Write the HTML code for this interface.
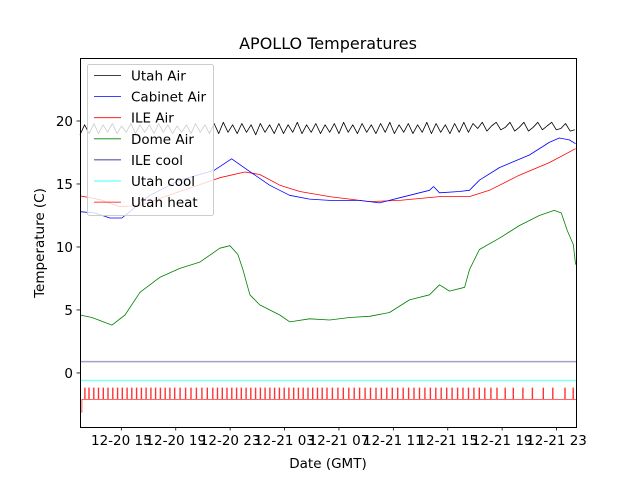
<!DOCTYPE html>
<html><head><meta charset="utf-8"><style>
body{margin:0;background:#fff}
svg text{font-family:"DejaVu Sans","Liberation Sans",sans-serif}
</style></head><body>
<svg id="chart" width="640" height="480" viewBox="0 0 640 480" xmlns="http://www.w3.org/2000/svg">
<rect width="640" height="480" fill="#fff"/>
<text x="328" y="49" font-size="16" text-anchor="middle">APOLLO Temperatures</text>
<g id="plot"></g>
<rect x="80.5" y="58.5" width="496" height="369" fill="none" stroke="#000" stroke-width="1"/>
<g id="ticks"></g>
<text x="328" y="468" font-size="13.5" text-anchor="middle">Date (GMT)</text>
<text transform="translate(44,243) rotate(-90)" font-size="13.5" text-anchor="middle">Temperature (C)</text>
<g id="legend"></g>
</svg>
<script>
// hours since 12-20 00:00 GMT
const xTickHours=[15,19,23,27,31,35,39,43,47];
const xTickLabels=["12-20 15","12-20 19","12-20 23","12-21 03","12-21 07","12-21 11","12-21 15","12-21 19","12-21 23"];
const yTicks=[0,5,10,15,20];
const seriesNames=["Utah Air","Cabinet Air","ILE Air","Dome Air","ILE cool","Utah cool","Utah heat"];
const seriesColors=["#000","#00f","#f00","#008000","#000080","#00ffff","#f00"];

const cabinetT=[11.96,13.06,14.16,15.04,17.1,19.3,21.86,23.11,24.43,25.9,27.37,28.84,30.31,32.51,33.98,35.45,36.92,37.66,37.95,38.39,39.86,40.59,41.33,42.8,45.0,46.47,47.2,47.94,48.4];
const cabinetV=[12.8,12.7,12.3,12.3,14.1,15.3,16.1,17.0,16.0,14.9,14.1,13.8,13.7,13.7,13.5,13.9,14.3,14.5,14.8,14.3,14.4,14.5,15.3,16.3,17.3,18.3,18.65,18.5,18.2];
const ileAirT=[11.96,13.43,14.9,16.37,19.3,22.25,24.08,25.18,26.65,28.12,30.31,33.26,35.45,38.39,40.59,42.06,44.26,46.47,48.4];
const ileAirV=[14.05,13.75,13.2,13.3,14.4,15.5,15.95,15.75,14.9,14.4,14.0,13.6,13.7,14.0,14.0,14.5,15.7,16.7,17.8];
const domeT=[11.96,12.84,14.31,15.27,16.37,17.84,19.3,20.77,22.25,22.98,23.57,23.94,24.45,25.18,26.65,27.39,28.84,30.31,31.78,33.26,34.72,36.19,37.66,38.39,39.13,40.24,40.6,41.33,42.8,44.26,45.73,46.83,47.35,47.79,48.23,48.4];
const domeV=[4.6,4.4,3.8,4.6,6.4,7.6,8.3,8.8,9.9,10.1,9.4,8.2,6.2,5.4,4.6,4.05,4.3,4.2,4.4,4.5,4.8,5.8,6.2,7.0,6.5,6.8,8.2,9.8,10.7,11.7,12.5,12.9,12.7,11.3,10.2,8.6];
const utahAirStart=11.96, utahAirStep=0.34;
const utahAirV=[18.9,19.7,19.0,19.8,19.0,19.7,19.1,19.8,19.0,19.6,19.1,19.8,19.0,19.7,19.1,19.7,19.0,19.8,19.1,19.7,19.0,19.6,19.1,19.7,19.0,19.8,19.1,19.7,19.0,19.8,19.0,19.9,19.1,19.7,19.0,19.8,19.1,19.7,18.9,19.8,19.1,19.7,19.0,19.8,19.0,19.7,19.1,19.9,19.0,19.7,19.1,19.8,19.0,19.7,19.1,19.8,19.0,19.9,19.1,19.7,19.0,19.8,19.1,19.7,19.0,19.8,19.1,19.9,19.0,19.7,19.1,19.8,19.0,19.7,19.1,19.9,19.0,19.8,19.1,19.7,19.0,19.8,19.1,19.9,19.1,19.8,19.4,19.9,19.2,19.6,19.9,19.3,19.5,19.9,19.2,19.5,19.9,19.2,19.5,19.9,19.3,19.6,19.9,19.3,19.4,19.8,19.2,19.3];
const ileCoolV=0.9;
const utahCoolV=-0.6;
const utahHeatBase=-2.1, utahHeatOn=-1.2, utahHeatInitial=-3.1;
const utahHeatPulses=[12.3,12.6,12.95,13.3,13.65,14.0,14.35,14.7,15.05,15.4,15.75,16.1,16.45,16.8,17.15,17.5,17.85,18.2,18.55,18.9,19.3,19.7,20.1,20.5,20.9,21.3,21.7,22.05,22.4,22.75,23.1,23.45,23.8,24.15,24.5,24.85,25.2,25.55,25.9,26.25,26.6,26.95,27.3,27.65,28.0,28.35,28.7,29.05,29.4,29.75,30.1,30.5,30.9,31.3,31.7,32.1,32.5,32.9,33.3,33.7,34.1,34.5,34.9,35.3,35.7,36.1,36.5,36.9,37.3,37.7,38.1,38.5,38.9,39.3,39.7,40.1,40.5,40.9,41.3,41.7,42.15,42.6,43.2,43.8,44.5,45.2,46.0,46.7,47.6,48.2];

const X0=80,X1=576,Y0=58,Y1=427;
const H0=11.96,H1=48.43,V0=-4.29,V1=25.0;
function xs(h){return X0+(h-H0)/(H1-H0)*(X1-X0);}
function ys(v){return Y1-(v-V0)/(V1-V0)*(Y1-Y0);}
const NS="http://www.w3.org/2000/svg";
const plot=document.getElementById('plot');
function mk(tag,attrs,parent){const e=document.createElementNS(NS,tag);for(const k in attrs)e.setAttribute(k,attrs[k]);parent.appendChild(e);return e;}
function line(T,V,color,name){
  const d=T.map((t,i)=>(i?'L':'M')+xs(t).toFixed(1)+','+ys(V[i]).toFixed(1)).join('');
  const p=mk('path',{d:d,fill:'none',stroke:color,'stroke-width':0.8,'stroke-linejoin':'round'},plot);
  
  
}
// ILE cool, Utah cool
const ic=mk('line',{x1:xs(H0),x2:xs(H1),y1:ys(ileCoolV),y2:ys(ileCoolV),stroke:'#a0a0c8','stroke-width':1.5},plot);


const uc=mk('line',{x1:xs(H0),x2:xs(H1),y1:ys(utahCoolV),y2:ys(utahCoolV),stroke:'#80ffff','stroke-width':1.5},plot);


// Utah heat
{
  let d='M'+xs(H0)+','+ys(utahHeatInitial)+'L'+xs(12.1)+','+ys(utahHeatInitial)+'L'+xs(12.1)+','+ys(utahHeatBase);
  utahHeatPulses.forEach(t=>{const x=xs(t).toFixed(1);d+='L'+x+','+ys(utahHeatBase)+'L'+x+','+ys(utahHeatOn)+'L'+(+x+0.6)+','+ys(utahHeatOn)+'L'+(+x+0.6)+','+ys(utahHeatBase);});
  d+='L'+xs(H1)+','+ys(utahHeatBase);
  const p=mk('path',{d:d,fill:'none',stroke:'#f00','stroke-width':0.8,'stroke-opacity':0.8},plot);
  
  
}
line(domeT,domeV,'#008000','dome-air-line');
line(ileAirT,ileAirV,'#f00','ile-air-line');
line(cabinetT,cabinetV,'#00f','cabinet-air-line');
line(utahAirV.map((v,i)=>utahAirStart+i*utahAirStep),utahAirV,'#000','utah-air-line');

const ticks=document.getElementById('ticks');
xTickHours.forEach((h,i)=>{
  const x=xs(h);
  const t=mk('line',{x1:x,x2:x,y1:427,y2:430.5,stroke:'#000','stroke-width':0.8},ticks);
  
  
  const l=mk('text',{x:x,y:445,'font-size':13.5,'text-anchor':'middle'},ticks);
  l.textContent=xTickLabels[i];
  
  
});
yTicks.forEach(v=>{
  const y=ys(v);
  const t=mk('line',{x1:76.5,x2:80,y1:y,y2:y,stroke:'#000','stroke-width':0.8},ticks);
  
  
  const l=mk('text',{x:73,y:y+5,'font-size':13.5,'text-anchor':'end'},ticks);
  l.textContent=v;
  
  
});

const lg=document.getElementById('legend');
const box=mk('rect',{x:87.5,y:64.5,width:126,height:151,rx:2,fill:'#fff','fill-opacity':0.8,stroke:'#ccc','stroke-width':1},lg);


seriesNames.forEach((n,i)=>{
  const y=75.5+i*21.1;
  const g=mk('g',{},lg);
  
  
  mk('line',{x1:94,x2:121,y1:y,y2:y,stroke:seriesColors[i],'stroke-width':0.8},g);
  const t=mk('text',{x:131,y:y+5,'font-size':13.5},g);
  t.textContent=n;
});
</script>
</body></html>
